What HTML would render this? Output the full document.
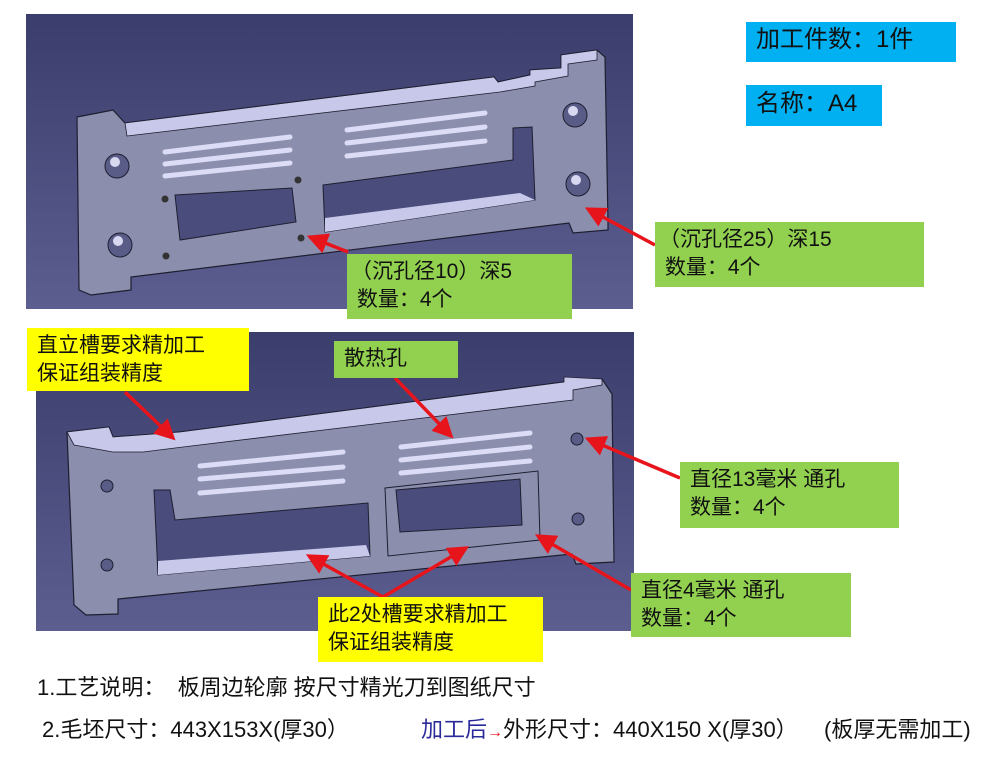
<!DOCTYPE html>
<html><head><meta charset="utf-8"><style>
body{margin:0;width:988px;height:763px;background:#fff;overflow:hidden;position:relative;font-family:"Liberation Sans","Noto Sans CJK SC",sans-serif;}
.b{position:absolute;font-size:21px;line-height:28px;color:#111;box-sizing:border-box;padding:4px 0 0 10px;white-space:nowrap;}
.g{background:#92d050}.y{background:#ffff00}.c{background:#00b0f0}
.t{position:absolute;font-size:22px;color:#111;white-space:nowrap;}
</style></head><body>
<svg width="988" height="763" style="position:absolute;left:0;top:0">
<defs>
<linearGradient id="bg" x1="0" y1="0" x2="0" y2="1"><stop offset="0" stop-color="#3b3d6c"/><stop offset="1" stop-color="#5c5e90"/></linearGradient>
<marker id="ah" markerWidth="6" markerHeight="6" refX="5" refY="3" orient="auto" markerUnits="strokeWidth"><path d="M0,0 L6,3 L0,6 z" fill="#e8141c"/></marker>
</defs>
<rect x="26" y="14" width="607" height="295" fill="url(#bg)"/>
<rect x="36" y="332" width="598" height="299" fill="url(#bg)"/>
<!-- plate 1 -->
<polygon points="77,117 113,110 125,123 494,77 498,82 530,75 530,70 561,68 561,55 597,50 605,57 608,223 608,230 573,233 569,223 131,277 131,290 91,295 79,290" fill="#8c8eae" stroke="#1e1e30" stroke-width="1.2"/>
<polygon points="125,123 494,77 498,82 530,75 530,70 561,68 561,55 597,50 597,60 568,64 568,76 535,82 535,86 500,92 127,136" fill="#c8c8ea" stroke="#1e1e30" stroke-width="0.8"/>
<g stroke="#dcdcf6" stroke-width="5" stroke-linecap="round">
<line x1="165" y1="152" x2="290" y2="137"/><line x1="165" y1="164" x2="290" y2="150"/><line x1="165" y1="176" x2="290" y2="163"/>
<line x1="347" y1="130" x2="485" y2="113"/><line x1="347" y1="143" x2="485" y2="127"/><line x1="347" y1="156" x2="485" y2="141"/>
</g>
<polygon points="175,195 292,188 296,222 180,240" fill="#4a4c7c" stroke="#1e1e30"/>
<polygon points="323,185 513,160 513,128 532,127 535,200 325,232" fill="#4a4c7c" stroke="#1e1e30"/>
<polygon points="325,218 520,193 535,200 325,232" fill="#c8c8ea"/>
<g fill="#5a5c88" stroke="#1e1e30"><circle cx="117" cy="166" r="12"/><circle cx="120" cy="245" r="12"/><circle cx="575" cy="115" r="12"/><circle cx="578" cy="184" r="12"/></g>
<g fill="#d8d8f0"><circle cx="115" cy="162" r="5"/><circle cx="118" cy="241" r="5"/><circle cx="573" cy="111" r="5"/><circle cx="576" cy="180" r="5"/></g>
<g fill="#333" ><circle cx="165" cy="199" r="3.5"/><circle cx="298" cy="180" r="3.5"/><circle cx="166" cy="256" r="3.5"/><circle cx="301" cy="238" r="3.5"/></g>
<!-- plate 2 -->
<polygon points="67,432 109,427 113,437 143,435 180,432 564,382 602,379 612,394 614,562 576,564 572,554 118,599 118,614 86,615 74,605" fill="#8c8eae" stroke="#1e1e30" stroke-width="1.2"/>
<polygon points="67,432 109,427 113,437 180,432 564,382 564,377 602,379 602,385 573,390 573,400 183,447 143,452 113,452 74,445" fill="#c8c8ea" stroke="#1e1e30" stroke-width="0.8"/>
<g stroke="#dcdcf6" stroke-width="5" stroke-linecap="round">
<line x1="200" y1="466" x2="343" y2="452"/><line x1="200" y1="479" x2="343" y2="467"/><line x1="200" y1="493" x2="343" y2="481"/>
<line x1="401" y1="447" x2="530" y2="433"/><line x1="401" y1="460" x2="530" y2="447"/><line x1="401" y1="473" x2="530" y2="461"/>
</g>
<polygon points="154,490 170,490 175,520 368,503 370,556 158,575" fill="#4a4c7c" stroke="#1e1e30"/>
<polygon points="158,561 366,545 370,556 158,575" fill="#c8c8ea"/>
<polygon points="385,488 538,471 540,540 388,556" fill="none" stroke="#1e1e30"/>
<polygon points="396,490 520,479 522,525 400,532" fill="#4a4c7c" stroke="#1e1e30"/>
<g fill="#5a5c88" stroke="#1e1e30"><circle cx="107" cy="486" r="6"/><circle cx="107" cy="565" r="6"/><circle cx="577" cy="439" r="6"/><circle cx="578" cy="519" r="6"/></g>
<!-- arrows -->
<g stroke="#e8141c" stroke-width="3.5" fill="none" marker-end="url(#ah)">
<line x1="655" y1="245" x2="588" y2="209"/>
<line x1="348" y1="252" x2="310" y2="237"/>
<line x1="125" y1="392" x2="173" y2="438"/>
<line x1="395" y1="378" x2="451" y2="436"/>
<line x1="680" y1="478" x2="588" y2="439"/>
<line x1="631" y1="590" x2="538" y2="536"/>
<line x1="383" y1="597" x2="309" y2="556"/>
<line x1="383" y1="597" x2="466" y2="548"/>
</g>
</svg>
<div class="b c" style="left:746px;top:22px;width:210px;height:40px;font-size:24px;padding-top:4px;">加工件数：1件</div>
<div class="b c" style="left:746px;top:85px;width:136px;height:41px;font-size:24px;padding-top:5px;">名称：A4</div>
<div class="b g" style="left:655px;top:222px;width:269px;height:65px;padding-left:4px;">（沉孔径25）深15<br>&nbsp;数量：4个</div>
<div class="b g" style="left:347px;top:254px;width:225px;height:65px;padding-left:4px;">（沉孔径10）深5<br>&nbsp;数量：4个</div>
<div class="b y" style="left:27px;top:328px;width:222px;height:63px;">直立槽要求精加工<br>保证组装精度</div>
<div class="b g" style="left:334px;top:341px;width:124px;height:37px;">散热孔</div>
<div class="b g" style="left:680px;top:462px;width:219px;height:66px;">直径13毫米 通孔<br>数量：4个</div>
<div class="b g" style="left:631px;top:573px;width:220px;height:64px;">直径4毫米 通孔<br>数量：4个</div>
<div class="b y" style="left:318px;top:597px;width:225px;height:65px;">此2处槽要求精加工<br>保证组装精度</div>
<div class="t" style="left:37px;top:670px;">1.工艺说明：&nbsp; 板周边轮廓 按尺寸精光刀到图纸尺寸</div>
<div class="t" style="left:42px;top:712px;">2.毛坯尺寸：443X153X(厚30）</div>
<div class="t" style="left:421px;top:712px;"><span style="color:#2a2a9a">加工后</span><span style="color:#e8141c;font-size:16px">→</span>外形尺寸：440X150 X(厚30）</div>
<div class="t" style="left:824px;top:712px;">(板厚无需加工)</div>
</body></html>
